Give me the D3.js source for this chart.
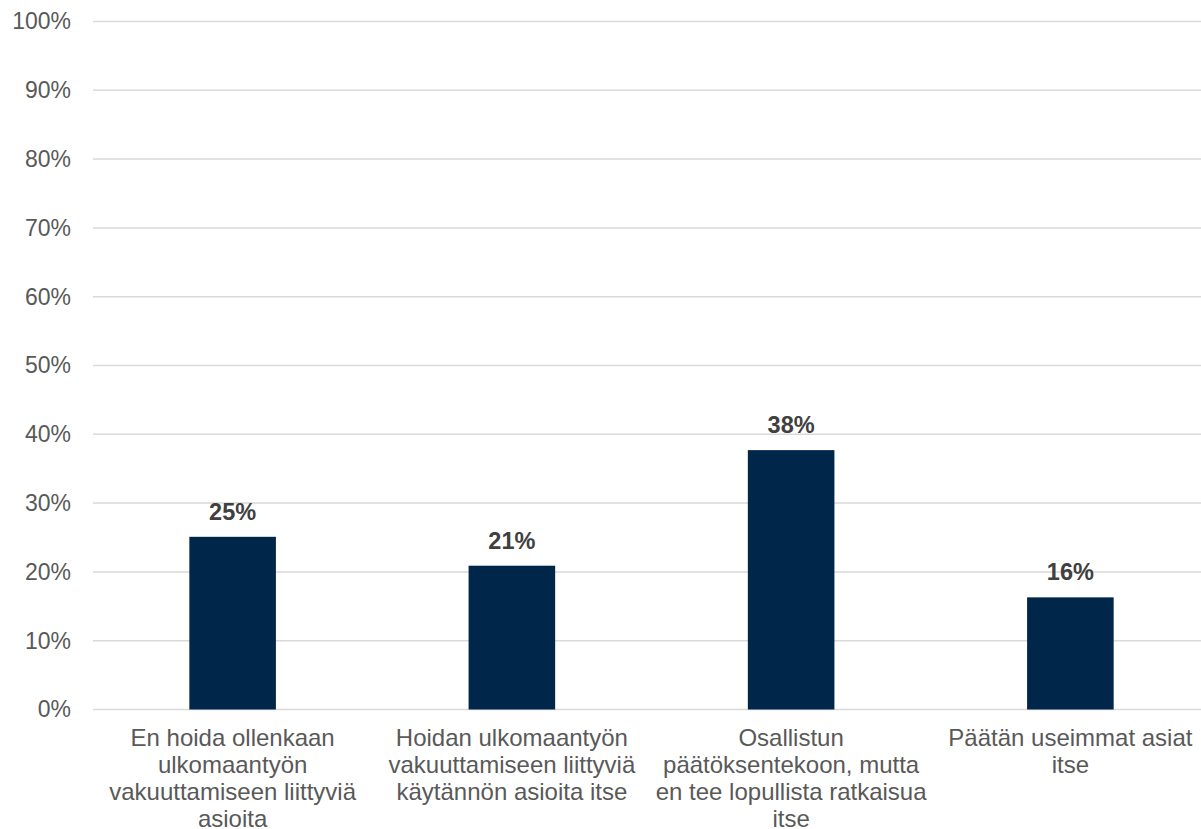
<!DOCTYPE html>
<html>
<head>
<meta charset="utf-8">
<script src="https://cdn.jsdelivr.net/npm/d3@7"></script>
<style>
  html, body { margin: 0; padding: 0; background: #fff; }
  svg { display: block; }
</style>
</head>
<body>
<svg id="chart" width="1201" height="829"></svg>
<script>
const categories = [
  ["En hoida ollenkaan", "ulkomaantyön", "vakuuttamiseen liittyviä", "asioita"],
  ["Hoidan ulkomaantyön", "vakuuttamiseen liittyviä", "käytännön asioita itse"],
  ["Osallistun", "päätöksentekoon, mutta", "en tee lopullista ratkaisua", "itse"],
  ["Päätän useimmat asiat", "itse"]
];
const values = [25.1, 20.9, 37.7, 16.3];
const valueLabels = ["25%", "21%", "38%", "16%"];
const yTicks = [0, 10, 20, 30, 40, 50, 60, 70, 80, 90, 100];
const yTickLabels = ["0%", "10%", "20%", "30%", "40%", "50%", "60%", "70%", "80%", "90%", "100%"];

const svg = d3.select("#chart");
const mLeft = 93, mRight = 1210, mTop = 21.5, mBottom = 709.5;
const fontFam = "'Liberation Sans', Arial, sans-serif";

const x = d3.scaleBand().domain(d3.range(categories.length)).range([mLeft, mRight])
  .paddingInner(0.69).paddingOuter(0.345);
const y = d3.scaleLinear().domain([0, 100]).range([mBottom, mTop]);

// gridlines
svg.append("g").selectAll("line").data(yTicks).join("line")
  .attr("x1", mLeft).attr("x2", mRight)
  .attr("y1", d => y(d)).attr("y2", d => y(d))
  .attr("stroke", "#d9d9d9").attr("stroke-width", 1.5);

// y axis labels
const yAxis = d3.axisLeft(y).tickValues(yTicks).tickFormat((d, i) => yTickLabels[i]).tickSize(0).tickPadding(22);
const ya = svg.append("g").attr("transform", `translate(${mLeft},0)`).call(yAxis);
ya.select(".domain").remove();
ya.selectAll("text").attr("font-family", fontFam).attr("font-size", "23px").attr("fill", "#595959");

// bars
svg.append("g").selectAll("rect").data(values).join("rect")
  .attr("x", (d, i) => x(i)).attr("width", x.bandwidth())
  .attr("y", d => y(d)).attr("height", d => y(0) - y(d))
  .attr("fill", "#00264A");

// data labels
svg.append("g").selectAll("text").data(values).join("text")
  .attr("x", (d, i) => x(i) + x.bandwidth() / 2)
  .attr("y", d => y(d) - 17)
  .attr("text-anchor", "middle")
  .attr("font-family", fontFam).attr("font-size", "23.5px").attr("font-weight", "bold")
  .attr("fill", "#404040")
  .text((d, i) => valueLabels[i]);

// category labels
const xAxis = d3.axisBottom(x).tickSize(0).tickFormat("");
const xa = svg.append("g").attr("transform", `translate(0,${mBottom})`).call(xAxis);
xa.select(".domain").remove();
const catG = svg.append("g");
categories.forEach((lines, i) => {
  const cx = x(i) + x.bandwidth() / 2;
  const t = catG.append("text")
    .attr("x", cx)
    .attr("y", mBottom + 36)
    .attr("text-anchor", "middle")
    .attr("font-family", fontFam).attr("font-size", "24px").attr("fill", "#595959");
  lines.forEach((ln, j) => {
    t.append("tspan").attr("x", cx).attr("dy", j === 0 ? 0 : 27.2).text(ln);
  });
});
</script>
</body>
</html>
